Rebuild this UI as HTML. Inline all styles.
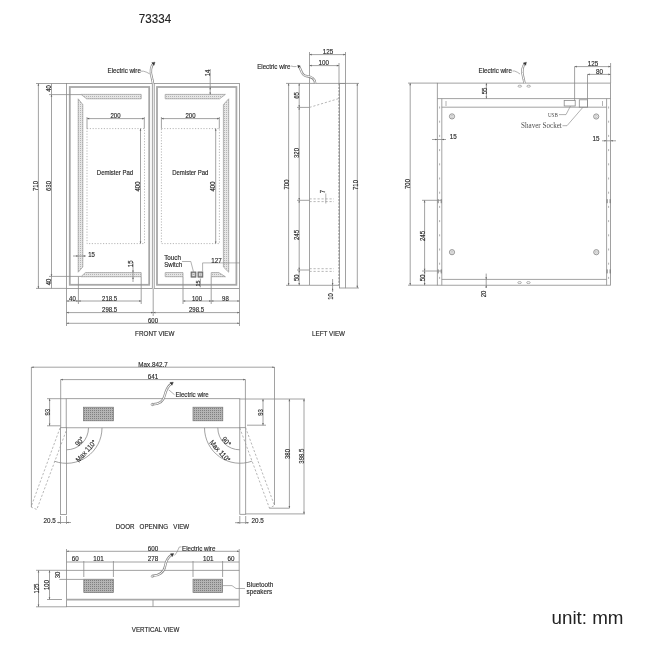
<!DOCTYPE html>
<html><head><meta charset="utf-8"><style>
html,body{margin:0;padding:0;background:#fff;width:650px;height:650px;overflow:hidden}
svg{display:block;will-change:transform}
text{font-family:"Liberation Sans",sans-serif;fill:#2a2a2a;stroke:#2a2a2a;stroke-width:0.16}
.title{fill:#222}
.unit{fill:#222;stroke:none}
.serif{font-family:"Liberation Serif",serif;fill:#3a3a3a;stroke:#3a3a3a;stroke-width:0.05;letter-spacing:0.4px}
.serif2{font-family:"Liberation Serif",serif;fill:#505050;stroke:none}
.l{fill:none;stroke:#8a8a8a;stroke-width:0.8}
.lt{fill:none;stroke:#888;stroke-width:0.65}
.th{fill:none;stroke:#a8a8a8;stroke-width:1.8}
.hatch{fill:url(#hp);stroke:#999;stroke-width:0.7}
.spk{fill:url(#sp);stroke:#777;stroke-width:0.7}
.dot{fill:none;stroke:#999;stroke-width:0.7;stroke-dasharray:1.2 1.6}
.dash{fill:none;stroke:#999;stroke-width:0.7;stroke-dasharray:2.2 1.8}
.dash2{fill:none;stroke:#707070;stroke-width:0.9;stroke-dasharray:2.2 1.2}
.ar{fill:#666;stroke:none}
.hm{fill:none;stroke:#666;stroke-width:0.8}
.circ{fill:#eee;stroke:#8c8c8c;stroke-width:0.9}
.circi{fill:none;stroke:#b0b0b0;stroke-width:0.6}
.btn{fill:#a0a0a0;stroke:#555;stroke-width:0.8}
.btni{fill:#eee;stroke:none}
.wirei{fill:none;stroke:#fff;stroke-width:1.0}
.blob{fill:#333;stroke:#333;stroke-width:0.4}
.wire{fill:none;stroke:#8a8a8a;stroke-width:2.4}
</style></head><body>
<svg width="650" height="650" viewBox="0 0 650 650">
<defs>
<pattern id="hp" width="2" height="2" patternUnits="userSpaceOnUse"><rect width="2" height="2" fill="#e6e6e6"/><rect x="0" y="0" width="1" height="1" fill="#b4b4b4"/></pattern>
<pattern id="sp" width="2" height="2" patternUnits="userSpaceOnUse"><rect width="2" height="2" fill="#b4b4b4"/><rect x="0" y="0" width="1" height="1" fill="#808080"/></pattern>
</defs>
<rect width="650" height="650" fill="#fff"/>
<text x="0" y="0" font-size="12.609" text-anchor="middle" class="title" transform="translate(155 22.8) scale(0.92 1)">73334</text>
<rect x="66.5" y="83.5" width="85.8" height="204.9" class="l"/>
<rect x="154.2" y="83.5" width="85.3" height="204.9" class="l"/>
<rect x="69.8" y="87" width="79.4" height="197.8" class="th"/>
<rect x="157" y="87" width="79.4" height="197.8" class="th"/>
<polygon points="81,94.4 141.2,94.4 141.2,98.8 86.6,98.8" class="hatch"/>
<polygon points="78.2,98.8 82.8,104.6 82.8,267 78.2,272.2" class="hatch"/>
<polygon points="85.3,272.6 141.2,272.6 141.2,276.7 81,276.7" class="hatch"/>
<polygon points="165.2,94.4 225.4,94.4 219.6,98.8 165.2,98.8" class="hatch"/>
<polygon points="228.7,98.8 223.4,104.6 223.4,267 228.7,272.2" class="hatch"/>
<polygon points="165.2,272.6 183,272.6 183,276.7 165.2,276.7" class="hatch"/>
<polygon points="211.2,272.6 218.8,272.6 225.4,276.7 211.2,276.7" class="hatch"/>
<rect x="87" y="128.6" width="57.5" height="115" class="dot"/>
<rect x="161.4" y="128.6" width="58" height="115" class="dot"/>
<line x1="87" y1="118.6" x2="144.3" y2="118.6" class="l"/>
<polygon points="87,118.6 89.2,117.8 89.2,119.39999999999999" class="ar"/>
<polygon points="144.3,118.6 142.10000000000002,117.8 142.10000000000002,119.39999999999999" class="ar"/>
<line x1="87" y1="117" x2="87" y2="128.6" class="l"/>
<line x1="144.3" y1="117" x2="144.3" y2="128.6" class="l"/>
<text x="0" y="0" font-size="6.818" text-anchor="middle" class="t" transform="translate(115.5 118.0) scale(0.88 1)">200</text>
<line x1="161.4" y1="118.6" x2="219.3" y2="118.6" class="l"/>
<polygon points="161.4,118.6 163.6,117.8 163.6,119.39999999999999" class="ar"/>
<polygon points="219.3,118.6 217.10000000000002,117.8 217.10000000000002,119.39999999999999" class="ar"/>
<line x1="161.4" y1="117" x2="161.4" y2="128.6" class="l"/>
<line x1="219.3" y1="117" x2="219.3" y2="128.6" class="l"/>
<text x="0" y="0" font-size="6.818" text-anchor="middle" class="t" transform="translate(190.5 118.0) scale(0.88 1)">200</text>
<line x1="140.5" y1="128.6" x2="140.5" y2="243.6" class="l"/>
<polygon points="140.5,128.6 139.7,130.79999999999998 141.3,130.79999999999998" class="ar"/>
<polygon points="140.5,243.6 139.7,241.4 141.3,241.4" class="ar"/>
<text x="0" y="0" font-size="6.818" text-anchor="middle" class="t" transform="translate(137.6 186.5) rotate(-90) scale(0.88 1)" dominant-baseline="central">400</text>
<line x1="215.7" y1="128.6" x2="215.7" y2="243.6" class="l"/>
<polygon points="215.7,128.6 214.89999999999998,130.79999999999998 216.5,130.79999999999998" class="ar"/>
<polygon points="215.7,243.6 214.89999999999998,241.4 216.5,241.4" class="ar"/>
<text x="0" y="0" font-size="6.818" text-anchor="middle" class="t" transform="translate(212.8 186.5) rotate(-90) scale(0.88 1)" dominant-baseline="central">400</text>
<text x="0" y="0" font-size="6.818" text-anchor="middle" class="t" transform="translate(115 172) scale(0.88 1)" dominant-baseline="central">Demister Pad</text>
<text x="0" y="0" font-size="6.818" text-anchor="middle" class="t" transform="translate(190.3 172) scale(0.88 1)" dominant-baseline="central">Demister Pad</text>
<line x1="36" y1="83.5" x2="66.5" y2="83.5" class="l"/>
<line x1="36" y1="288.4" x2="66.5" y2="288.4" class="l"/>
<line x1="38.4" y1="83.5" x2="38.4" y2="288.4" class="l"/>
<polygon points="38.4,83.5 37.6,85.7 39.199999999999996,85.7" class="ar"/>
<polygon points="38.4,288.4 37.6,286.2 39.199999999999996,286.2" class="ar"/>
<text x="0" y="0" font-size="6.818" text-anchor="middle" class="t" transform="translate(35.6 186) rotate(-90) scale(0.88 1)" dominant-baseline="central">710</text>
<line x1="49" y1="94.6" x2="81" y2="94.6" class="l"/>
<line x1="49" y1="276.4" x2="81" y2="276.4" class="l"/>
<line x1="51.5" y1="94.6" x2="51.5" y2="276.4" class="l"/>
<polygon points="51.5,94.6 50.7,96.8 52.3,96.8" class="ar"/>
<polygon points="51.5,276.4 50.7,274.2 52.3,274.2" class="ar"/>
<text x="0" y="0" font-size="6.818" text-anchor="middle" class="t" transform="translate(48.6 186) rotate(-90) scale(0.88 1)" dominant-baseline="central">630</text>
<line x1="51.5" y1="83.5" x2="51.5" y2="94.6" class="l"/>
<text x="0" y="0" font-size="6.818" text-anchor="middle" class="t" transform="translate(48.6 88.5) rotate(-90) scale(0.88 1)" dominant-baseline="central">40</text>
<line x1="51.5" y1="276.4" x2="51.5" y2="288.4" class="l"/>
<text x="0" y="0" font-size="6.818" text-anchor="middle" class="t" transform="translate(48.6 282) rotate(-90) scale(0.88 1)" dominant-baseline="central">40</text>
<line x1="73" y1="256" x2="86" y2="256" class="l"/>
<polygon points="78.3,256 76.1,255.2 76.1,256.8" class="ar"/>
<polygon points="82.8,256 85.0,255.2 85.0,256.8" class="ar"/>
<text x="0" y="0" font-size="6.818" text-anchor="middle" class="t" transform="translate(91.6 256.6) scale(0.88 1)">15</text>
<line x1="133" y1="262" x2="133" y2="282" class="l"/>
<polygon points="133,272.6 132.2,270.40000000000003 133.8,270.40000000000003" class="ar"/>
<polygon points="133,276.7 132.2,278.9 133.8,278.9" class="ar"/>
<text x="0" y="0" font-size="6.818" text-anchor="middle" class="t" transform="translate(130.4 263.8) rotate(-90) scale(0.88 1)" dominant-baseline="central">15</text>
<line x1="66.5" y1="288.4" x2="66.5" y2="326" class="l"/>
<line x1="78.4" y1="276.7" x2="78.4" y2="304" class="l"/>
<line x1="141.2" y1="276.7" x2="141.2" y2="304" class="l"/>
<line x1="66.5" y1="301" x2="78.4" y2="301" class="l"/>
<polygon points="66.5,301 68.7,300.2 68.7,301.8" class="ar"/>
<polygon points="78.4,301 76.2,300.2 76.2,301.8" class="ar"/>
<line x1="78.4" y1="301" x2="141.2" y2="301" class="l"/>
<polygon points="78.4,301 80.60000000000001,300.2 80.60000000000001,301.8" class="ar"/>
<polygon points="141.2,301 139.0,300.2 139.0,301.8" class="ar"/>
<text x="0" y="0" font-size="6.818" text-anchor="middle" class="t" transform="translate(72.4 300.8) scale(0.88 1)">40</text>
<text x="0" y="0" font-size="6.818" text-anchor="middle" class="t" transform="translate(109.6 300.8) scale(0.88 1)">218.5</text>
<line x1="153.2" y1="288.4" x2="153.2" y2="316" class="l"/>
<line x1="66.5" y1="312.6" x2="153.2" y2="312.6" class="l"/>
<polygon points="66.5,312.6 68.7,311.8 68.7,313.40000000000003" class="ar"/>
<polygon points="153.2,312.6 151.0,311.8 151.0,313.40000000000003" class="ar"/>
<text x="0" y="0" font-size="6.818" text-anchor="middle" class="t" transform="translate(109.6 312.0) scale(0.88 1)">298.5</text>
<line x1="153.2" y1="312.6" x2="239.5" y2="312.6" class="l"/>
<polygon points="153.2,312.6 155.39999999999998,311.8 155.39999999999998,313.40000000000003" class="ar"/>
<polygon points="239.5,312.6 237.3,311.8 237.3,313.40000000000003" class="ar"/>
<text x="0" y="0" font-size="6.818" text-anchor="middle" class="t" transform="translate(196.5 312.0) scale(0.88 1)">298.5</text>
<line x1="239.5" y1="288.4" x2="239.5" y2="326" class="l"/>
<line x1="66.5" y1="323.3" x2="239.5" y2="323.3" class="l"/>
<polygon points="66.5,323.3 68.7,322.5 68.7,324.1" class="ar"/>
<polygon points="239.5,323.3 237.3,322.5 237.3,324.1" class="ar"/>
<text x="0" y="0" font-size="6.818" text-anchor="middle" class="t" transform="translate(153 322.8) scale(0.88 1)">600</text>
<line x1="183" y1="276.7" x2="183" y2="304" class="l"/>
<line x1="211.2" y1="276.7" x2="211.2" y2="304" class="l"/>
<line x1="183" y1="301" x2="211.2" y2="301" class="l"/>
<polygon points="183,301 185.2,300.2 185.2,301.8" class="ar"/>
<polygon points="211.2,301 209.0,300.2 209.0,301.8" class="ar"/>
<line x1="211.2" y1="301" x2="239.5" y2="301" class="l"/>
<polygon points="211.2,301 213.39999999999998,300.2 213.39999999999998,301.8" class="ar"/>
<polygon points="239.5,301 237.3,300.2 237.3,301.8" class="ar"/>
<text x="0" y="0" font-size="6.818" text-anchor="middle" class="t" transform="translate(197 300.8) scale(0.88 1)">100</text>
<text x="0" y="0" font-size="6.818" text-anchor="middle" class="t" transform="translate(225.4 300.8) scale(0.88 1)">98</text>
<text x="0" y="0" font-size="7.159" text-anchor="middle" class="t" transform="translate(154.8 333.2) scale(0.88 1)" dominant-baseline="central">FRONT VIEW</text>
<rect x="191.1" y="272" width="4.8" height="5.1" class="btn"/>
<rect x="198" y="272" width="4.8" height="5.1" class="btn"/>
<rect x="192.3" y="273.2" width="2.4" height="2.7" class="btni"/>
<rect x="199.2" y="273.2" width="2.4" height="2.7" class="btni"/>
<line x1="192.6" y1="274.5" x2="194.4" y2="274.5" class="lt"/>
<line x1="200.4" y1="273.4" x2="200.4" y2="275.8" class="lt"/>
<text x="0" y="0" font-size="7.159" text-anchor="start" class="t" transform="translate(164.2 259.5) scale(0.88 1)">Touch</text>
<text x="0" y="0" font-size="6.932" text-anchor="start" class="t" transform="translate(164.2 266.9) scale(0.88 1)">Switch</text>
<path d="M182,261.5 L190.8,261.5 L193.5,271.8" class="lt"/>
<line x1="202.6" y1="262.9" x2="240" y2="262.9" class="lt"/>
<line x1="202.6" y1="262.9" x2="202.6" y2="271.5" class="lt"/>
<text x="0" y="0" font-size="7.159" text-anchor="middle" class="t" transform="translate(216.6 263.2) scale(0.88 1)">127</text>
<text x="0" y="0" font-size="6.25" text-anchor="middle" class="t" transform="translate(197.6 283.5) rotate(-90) scale(0.88 1)" dominant-baseline="central">15</text>
<line x1="200.4" y1="278.5" x2="200.4" y2="287.3" class="l"/>
<line x1="210.2" y1="69" x2="210.2" y2="94.6" class="l"/>
<polygon points="210.2,94.6 209.39999999999998,92.39999999999999 211.0,92.39999999999999" class="ar"/>
<polygon points="210.2,87 209.39999999999998,89.2 211.0,89.2" class="ar"/>
<text x="0" y="0" font-size="6.818" text-anchor="middle" class="t" transform="translate(207.2 73) rotate(-90) scale(0.88 1)" dominant-baseline="central">14</text>
<text x="0" y="0" font-size="7.045" text-anchor="start" class="t" transform="translate(107.5 73.3) scale(0.88 1)">Electric wire</text>
<path d="M141,71.2 L143.5,71.2 Q147,72 149.8,74" class="lt"/>
<path d="M153,83.5 C152.5,78 150,74 151,69 C151.5,66 152.5,64.5 153.6,63.5" class="wire"/>
<path d="M153,83.5 C152.5,78 150,74 151,69 C151.5,66 152.5,64.5 153.6,63.5" class="wirei"/>
<polygon points="155.03,62.17 153.97,65.27 151.79,62.67" class="blob"/>
<line x1="286" y1="83.4" x2="359" y2="83.4" class="l"/>
<line x1="309.5" y1="83.4" x2="309.5" y2="285.3" class="l"/>
<line x1="339" y1="83.4" x2="339" y2="285.3" class="dash2"/>
<rect x="339.5" y="83.4" width="6" height="204.6" class="l"/>
<line x1="309.5" y1="285.3" x2="339" y2="285.3" class="l"/>
<line x1="286" y1="285.3" x2="309.5" y2="285.3" class="l"/>
<line x1="345.5" y1="288" x2="359" y2="288" class="l"/>
<line x1="288.6" y1="83.4" x2="288.6" y2="285.3" class="l"/>
<polygon points="288.6,83.4 287.8,85.60000000000001 289.40000000000003,85.60000000000001" class="ar"/>
<polygon points="288.6,285.3 287.8,283.1 289.40000000000003,283.1" class="ar"/>
<text x="0" y="0" font-size="6.818" text-anchor="middle" class="t" transform="translate(286 184.5) rotate(-90) scale(0.88 1)" dominant-baseline="central">700</text>
<line x1="357.3" y1="83.4" x2="357.3" y2="288" class="l"/>
<polygon points="357.3,83.4 356.5,85.60000000000001 358.1,85.60000000000001" class="ar"/>
<polygon points="357.3,288 356.5,285.8 358.1,285.8" class="ar"/>
<text x="0" y="0" font-size="6.818" text-anchor="middle" class="t" transform="translate(355 185) rotate(-90) scale(0.88 1)" dominant-baseline="central">710</text>
<line x1="299.2" y1="83.4" x2="299.2" y2="107.4" class="l"/>
<polygon points="299.2,83.4 298.4,85.60000000000001 300.0,85.60000000000001" class="ar"/>
<polygon points="299.2,107.4 298.4,105.2 300.0,105.2" class="ar"/>
<text x="0" y="0" font-size="6.818" text-anchor="middle" class="t" transform="translate(296.4 95.4) rotate(-90) scale(0.88 1)" dominant-baseline="central">65</text>
<line x1="299.2" y1="107.4" x2="299.2" y2="200.3" class="l"/>
<polygon points="299.2,107.4 298.4,109.60000000000001 300.0,109.60000000000001" class="ar"/>
<polygon points="299.2,200.3 298.4,198.10000000000002 300.0,198.10000000000002" class="ar"/>
<text x="0" y="0" font-size="6.818" text-anchor="middle" class="t" transform="translate(296.4 153) rotate(-90) scale(0.88 1)" dominant-baseline="central">320</text>
<line x1="299.2" y1="200.3" x2="299.2" y2="270" class="l"/>
<polygon points="299.2,200.3 298.4,202.5 300.0,202.5" class="ar"/>
<polygon points="299.2,270 298.4,267.8 300.0,267.8" class="ar"/>
<text x="0" y="0" font-size="6.818" text-anchor="middle" class="t" transform="translate(296.4 235) rotate(-90) scale(0.88 1)" dominant-baseline="central">245</text>
<line x1="299.2" y1="270" x2="299.2" y2="285.3" class="l"/>
<polygon points="299.2,270 298.4,272.2 300.0,272.2" class="ar"/>
<polygon points="299.2,285.3 298.4,283.1 300.0,283.1" class="ar"/>
<text x="0" y="0" font-size="6.818" text-anchor="middle" class="t" transform="translate(296.4 277.7) rotate(-90) scale(0.88 1)" dominant-baseline="central">50</text>
<line x1="297" y1="107.4" x2="309.5" y2="107.4" class="l"/>
<path d="M309.5,107.4 L339,98.5" class="dash"/>
<line x1="297" y1="200.3" x2="309.5" y2="200.3" class="l"/>
<line x1="309.5" y1="198.9" x2="334" y2="198.9" class="dash"/>
<line x1="309.5" y1="201.6" x2="334" y2="201.6" class="dash"/>
<line x1="325.8" y1="193.5" x2="325.8" y2="203.5" class="lt"/>
<text x="0" y="0" font-size="6.818" text-anchor="middle" class="t" transform="translate(322 191.5) rotate(-90) scale(0.88 1)" dominant-baseline="central">7</text>
<line x1="297" y1="270" x2="309.5" y2="270" class="l"/>
<line x1="309.5" y1="268.7" x2="334" y2="268.7" class="dash"/>
<line x1="309.5" y1="271.4" x2="334" y2="271.4" class="dash"/>
<line x1="332.6" y1="279" x2="332.6" y2="292" class="l"/>
<polygon points="332.6,285.3 331.8,283.1 333.40000000000003,283.1" class="ar"/>
<polygon points="332.6,288 331.8,290.2 333.40000000000003,290.2" class="ar"/>
<text x="0" y="0" font-size="6.818" text-anchor="middle" class="t" transform="translate(330.3 296.4) rotate(-90) scale(0.88 1)" dominant-baseline="central">10</text>
<text x="0" y="0" font-size="7.159" text-anchor="middle" class="t" transform="translate(328.5 333) scale(0.88 1)" dominant-baseline="central">LEFT VIEW</text>
<line x1="309.5" y1="52" x2="309.5" y2="83.4" class="l"/>
<line x1="345.5" y1="52" x2="345.5" y2="83.4" class="l"/>
<line x1="339" y1="63" x2="339" y2="83.4" class="l"/>
<line x1="309.5" y1="54.6" x2="345.5" y2="54.6" class="l"/>
<polygon points="309.5,54.6 311.7,53.800000000000004 311.7,55.4" class="ar"/>
<polygon points="345.5,54.6 343.3,53.800000000000004 343.3,55.4" class="ar"/>
<text x="0" y="0" font-size="7.159" text-anchor="middle" class="t" transform="translate(328 53.8) scale(0.88 1)">125</text>
<line x1="309.5" y1="65.6" x2="339" y2="65.6" class="l"/>
<polygon points="309.5,65.6 311.7,64.8 311.7,66.39999999999999" class="ar"/>
<polygon points="339,65.6 336.8,64.8 336.8,66.39999999999999" class="ar"/>
<text x="0" y="0" font-size="7.159" text-anchor="middle" class="t" transform="translate(323.8 64.6) scale(0.88 1)">100</text>
<text x="0" y="0" font-size="7.045" text-anchor="end" class="t" transform="translate(290.5 68.5) scale(0.88 1)">Electric wire</text>
<path d="M291,66 Q294,67 296.5,66.5" class="lt"/>
<path d="M315.2,83.4 C315,78 311,76.5 306,76 C301,75.5 301.5,69 298.8,66.4" class="wire"/>
<path d="M315.2,83.4 C315,78 311,76.5 306,76 C301,75.5 301.5,69 298.8,66.4" class="wirei"/>
<polygon points="297.69,65.29 300.24,65.92 298.32,67.84" class="blob"/>
<rect x="437.3" y="83.1" width="173.3" height="202.1" class="l"/>
<line x1="441.8" y1="98.6" x2="441.8" y2="285.2" class="l"/>
<line x1="606.6" y1="98.6" x2="606.6" y2="285.2" class="l"/>
<line x1="437.3" y1="98.6" x2="610.6" y2="98.6" class="l"/>
<line x1="441.8" y1="107.2" x2="606.6" y2="107.2" class="l"/>
<line x1="441.8" y1="279.4" x2="606.6" y2="279.4" class="l"/>
<circle cx="452" cy="116.4" r="2.6" class="circ"/>
<circle cx="452" cy="116.4" r="1.1" class="circi"/>
<circle cx="596.2" cy="116.5" r="2.6" class="circ"/>
<circle cx="596.2" cy="116.5" r="1.1" class="circi"/>
<circle cx="452" cy="252.2" r="2.6" class="circ"/>
<circle cx="452" cy="252.2" r="1.1" class="circi"/>
<circle cx="596.3" cy="252.2" r="2.6" class="circ"/>
<circle cx="596.3" cy="252.2" r="1.1" class="circi"/>
<line x1="439.6" y1="106.5" x2="439.6" y2="108.5" class="lt"/>
<line x1="608.6" y1="106.5" x2="608.6" y2="108.5" class="lt"/>
<line x1="439.6" y1="120.7" x2="439.6" y2="122.7" class="lt"/>
<line x1="608.6" y1="120.7" x2="608.6" y2="122.7" class="lt"/>
<line x1="439.6" y1="134.9" x2="439.6" y2="136.9" class="lt"/>
<line x1="608.6" y1="134.9" x2="608.6" y2="136.9" class="lt"/>
<line x1="439.6" y1="149.1" x2="439.6" y2="151.1" class="lt"/>
<line x1="608.6" y1="149.1" x2="608.6" y2="151.1" class="lt"/>
<line x1="439.6" y1="163.3" x2="439.6" y2="165.3" class="lt"/>
<line x1="608.6" y1="163.3" x2="608.6" y2="165.3" class="lt"/>
<line x1="439.6" y1="177.5" x2="439.6" y2="179.5" class="lt"/>
<line x1="608.6" y1="177.5" x2="608.6" y2="179.5" class="lt"/>
<line x1="439.6" y1="191.7" x2="439.6" y2="193.7" class="lt"/>
<line x1="608.6" y1="191.7" x2="608.6" y2="193.7" class="lt"/>
<line x1="439.6" y1="205.89999999999998" x2="439.6" y2="207.89999999999998" class="lt"/>
<line x1="608.6" y1="205.89999999999998" x2="608.6" y2="207.89999999999998" class="lt"/>
<line x1="439.6" y1="220.1" x2="439.6" y2="222.1" class="lt"/>
<line x1="608.6" y1="220.1" x2="608.6" y2="222.1" class="lt"/>
<line x1="439.6" y1="234.3" x2="439.6" y2="236.3" class="lt"/>
<line x1="608.6" y1="234.3" x2="608.6" y2="236.3" class="lt"/>
<line x1="439.6" y1="248.5" x2="439.6" y2="250.5" class="lt"/>
<line x1="608.6" y1="248.5" x2="608.6" y2="250.5" class="lt"/>
<line x1="439.6" y1="262.7" x2="439.6" y2="264.7" class="lt"/>
<line x1="608.6" y1="262.7" x2="608.6" y2="264.7" class="lt"/>
<line x1="439.6" y1="276.9" x2="439.6" y2="278.9" class="lt"/>
<line x1="608.6" y1="276.9" x2="608.6" y2="278.9" class="lt"/>
<line x1="438.2" y1="199.2" x2="438.2" y2="203.2" class="hm"/>
<line x1="441.2" y1="199.2" x2="441.2" y2="203.2" class="hm"/>
<line x1="607.2" y1="199.2" x2="607.2" y2="203.2" class="hm"/>
<line x1="610.1" y1="199.2" x2="610.1" y2="203.2" class="hm"/>
<line x1="438.2" y1="269.4" x2="438.2" y2="273.4" class="hm"/>
<line x1="441.2" y1="269.4" x2="441.2" y2="273.4" class="hm"/>
<line x1="607.2" y1="269.4" x2="607.2" y2="273.4" class="hm"/>
<line x1="610.1" y1="269.4" x2="610.1" y2="273.4" class="hm"/>
<line x1="446" y1="101" x2="446" y2="106" class="lt"/>
<line x1="602.5" y1="101" x2="602.5" y2="106" class="lt"/>
<rect x="564.2" y="100.5" width="11" height="5.5" class="l"/>
<rect x="579.3" y="99.8" width="8.2" height="7.4" class="l"/>
<line x1="574.6" y1="66.6" x2="574.6" y2="100.5" class="l"/>
<line x1="587.5" y1="74.4" x2="587.5" y2="107.2" class="l"/>
<line x1="610.6" y1="63" x2="610.6" y2="83.1" class="l"/>
<line x1="574.6" y1="66.6" x2="610.6" y2="66.6" class="l"/>
<polygon points="574.6,66.6 576.8000000000001,65.8 576.8000000000001,67.39999999999999" class="ar"/>
<polygon points="610.6,66.6 608.4,65.8 608.4,67.39999999999999" class="ar"/>
<text x="0" y="0" font-size="7.159" text-anchor="middle" class="t" transform="translate(593 66.0) scale(0.88 1)">125</text>
<line x1="587.5" y1="74.4" x2="610.6" y2="74.4" class="l"/>
<polygon points="587.5,74.4 589.7,73.60000000000001 589.7,75.2" class="ar"/>
<polygon points="610.6,74.4 608.4,73.60000000000001 608.4,75.2" class="ar"/>
<text x="0" y="0" font-size="7.159" text-anchor="middle" class="t" transform="translate(599.5 73.8) scale(0.88 1)">80</text>
<text x="0" y="0" font-size="7.083" text-anchor="end" class="serif2" transform="translate(557.8 116.8) scale(0.72 1)">USB</text>
<text x="0" y="0" font-size="8.659" text-anchor="end" class="serif2" transform="translate(561.8 128.2) scale(0.82 1)">Shaver Socket</text>
<path d="M559,114.6 L566,114.6 L570.5,106" class="lt"/>
<path d="M562.5,125.7 L567,125.7 L583,107.2" class="lt"/>
<line x1="486.4" y1="83.1" x2="486.4" y2="98.6" class="l"/>
<polygon points="486.4,83.1 485.59999999999997,85.3 487.2,85.3" class="ar"/>
<polygon points="486.4,98.6 485.59999999999997,96.39999999999999 487.2,96.39999999999999" class="ar"/>
<text x="0" y="0" font-size="6.818" text-anchor="middle" class="t" transform="translate(484 91) rotate(-90) scale(0.88 1)" dominant-baseline="central">55</text>
<line x1="432" y1="139.5" x2="446" y2="139.5" class="l"/>
<polygon points="437.3,139.5 435.1,138.7 435.1,140.3" class="ar"/>
<polygon points="441.8,139.5 444.0,138.7 444.0,140.3" class="ar"/>
<text x="0" y="0" font-size="7.159" text-anchor="middle" class="t" transform="translate(453.2 139.4) scale(0.88 1)">15</text>
<line x1="602" y1="140.8" x2="616" y2="140.8" class="l"/>
<polygon points="606.6,140.8 604.4,140.0 604.4,141.60000000000002" class="ar"/>
<polygon points="610.6,140.8 612.8000000000001,140.0 612.8000000000001,141.60000000000002" class="ar"/>
<text x="0" y="0" font-size="7.159" text-anchor="middle" class="t" transform="translate(596 140.8) scale(0.88 1)">15</text>
<line x1="408" y1="83.1" x2="437.3" y2="83.1" class="l"/>
<line x1="408" y1="285.2" x2="437.3" y2="285.2" class="l"/>
<line x1="410.2" y1="83.1" x2="410.2" y2="285.2" class="l"/>
<polygon points="410.2,83.1 409.4,85.3 411.0,85.3" class="ar"/>
<polygon points="410.2,285.2 409.4,283.0 411.0,283.0" class="ar"/>
<text x="0" y="0" font-size="6.818" text-anchor="middle" class="t" transform="translate(407.3 184) rotate(-90) scale(0.88 1)" dominant-baseline="central">700</text>
<line x1="422" y1="200.3" x2="441.8" y2="200.3" class="l"/>
<line x1="422" y1="271" x2="441.8" y2="271" class="l"/>
<line x1="424.6" y1="200.3" x2="424.6" y2="271" class="l"/>
<polygon points="424.6,200.3 423.8,202.5 425.40000000000003,202.5" class="ar"/>
<polygon points="424.6,271 423.8,268.8 425.40000000000003,268.8" class="ar"/>
<text x="0" y="0" font-size="6.818" text-anchor="middle" class="t" transform="translate(421.9 236) rotate(-90) scale(0.88 1)" dominant-baseline="central">245</text>
<line x1="424.6" y1="271" x2="424.6" y2="285.2" class="l"/>
<polygon points="424.6,271 423.8,273.2 425.40000000000003,273.2" class="ar"/>
<polygon points="424.6,285.2 423.8,283.0 425.40000000000003,283.0" class="ar"/>
<text x="0" y="0" font-size="6.818" text-anchor="middle" class="t" transform="translate(421.9 277.8) rotate(-90) scale(0.88 1)" dominant-baseline="central">50</text>
<line x1="486.2" y1="273.6" x2="486.2" y2="288" class="l"/>
<polygon points="486.2,279.4 485.4,277.2 487.0,277.2" class="ar"/>
<polygon points="486.2,285.2 485.4,287.4 487.0,287.4" class="ar"/>
<text x="0" y="0" font-size="6.818" text-anchor="middle" class="t" transform="translate(483.4 293.9) rotate(-90) scale(0.88 1)" dominant-baseline="central">20</text>
<ellipse cx="519.8" cy="86.2" rx="1.8" ry="1" class="lt"/>
<ellipse cx="528.7" cy="86.2" rx="1.8" ry="1" class="lt"/>
<ellipse cx="519.6" cy="282.6" rx="1.8" ry="1" class="lt"/>
<ellipse cx="528.4" cy="282.6" rx="1.8" ry="1" class="lt"/>
<text x="0" y="0" font-size="7.045" text-anchor="start" class="t" transform="translate(478.5 73.4) scale(0.88 1)">Electric wire</text>
<path d="M512.5,71 L514.5,71 Q517.5,72 520,74" class="lt"/>
<path d="M524.4,83.2 C524,78 521.5,74 522.5,69 C523,66.5 524,64.5 525,63.5" class="wire"/>
<path d="M524.4,83.2 C524,78 521.5,74 522.5,69 C523,66.5 524,64.5 525,63.5" class="wirei"/>
<polygon points="526.43,62.17 525.65,65.35 523.25,62.95" class="blob"/>
<rect x="66.2" y="398.7" width="173.6" height="29.1" class="l"/>
<rect x="83.5" y="407.2" width="30" height="13.6" class="spk"/>
<rect x="193" y="407.2" width="29.8" height="13.6" class="spk"/>
<rect x="60.5" y="427.7" width="6" height="86.8" class="l"/>
<rect x="239.8" y="427.7" width="5.9" height="86.6" class="l"/>
<path d="M60,428 L31,507 L36.8,509.5 L66.5,430" class="dash"/>
<path d="M239.8,428 L269.4,508 L274.5,505.5 L245.7,428" class="dash"/>
<path d="M88.5,427.8 A22,22 0 0 1 66.5,449.8" class="l"/>
<path d="M217.8,427.8 A22,22 0 0 0 239.8,449.8" class="l"/>
<path d="M102,427.8 A35.5,35.5 0 0 1 54.4,461.2" class="l"/>
<path d="M204.5,427.8 A35.5,35.5 0 0 0 251.9,461.2" class="l"/>
<text x="0" y="0" font-size="7.386" text-anchor="middle" class="t" transform="translate(79.6 441.4) rotate(-48) scale(0.88 1)" dominant-baseline="central">90°</text>
<text x="0" y="0" font-size="7.386" text-anchor="middle" class="t" transform="translate(226.4 441.4) rotate(48) scale(0.88 1)" dominant-baseline="central">90°</text>
<text x="0" y="0" font-size="7.386" text-anchor="middle" class="t" transform="translate(86 451) rotate(-48) scale(0.88 1)" dominant-baseline="central">Max 110°</text>
<text x="0" y="0" font-size="7.386" text-anchor="middle" class="t" transform="translate(220 451) rotate(48) scale(0.88 1)" dominant-baseline="central">Max 110°</text>
<line x1="31.4" y1="367" x2="31.4" y2="507" class="l"/>
<line x1="274.5" y1="367" x2="274.5" y2="505" class="l"/>
<line x1="31.4" y1="367.2" x2="274.5" y2="367.2" class="l"/>
<polygon points="31.4,367.2 33.6,366.4 33.6,368.0" class="ar"/>
<polygon points="274.5,367.2 272.3,366.4 272.3,368.0" class="ar"/>
<text x="0" y="0" font-size="7.159" text-anchor="middle" class="t" transform="translate(153 366.6) scale(0.88 1)">Max.842.7</text>
<line x1="60.7" y1="379.5" x2="60.7" y2="427.7" class="l"/>
<line x1="245.4" y1="379.5" x2="245.4" y2="427.7" class="l"/>
<line x1="60.7" y1="379.6" x2="245.4" y2="379.6" class="l"/>
<polygon points="60.7,379.6 62.900000000000006,378.8 62.900000000000006,380.40000000000003" class="ar"/>
<polygon points="245.4,379.6 243.20000000000002,378.8 243.20000000000002,380.40000000000003" class="ar"/>
<text x="0" y="0" font-size="7.159" text-anchor="middle" class="t" transform="translate(153 378.8) scale(0.88 1)">641</text>
<line x1="47" y1="398.7" x2="66.2" y2="398.7" class="l"/>
<line x1="47" y1="425.8" x2="60.5" y2="425.8" class="l"/>
<line x1="49.6" y1="398.7" x2="49.6" y2="425.8" class="l"/>
<polygon points="49.6,398.7 48.800000000000004,400.9 50.4,400.9" class="ar"/>
<polygon points="49.6,425.8 48.800000000000004,423.6 50.4,423.6" class="ar"/>
<text x="0" y="0" font-size="6.818" text-anchor="middle" class="t" transform="translate(46.9 412.2) rotate(-90) scale(0.88 1)" dominant-baseline="central">93</text>
<line x1="239.8" y1="399" x2="305" y2="399" class="l"/>
<line x1="247" y1="425.2" x2="266" y2="425.2" class="l"/>
<line x1="263" y1="399" x2="263" y2="425.2" class="l"/>
<polygon points="263,399 262.2,401.2 263.8,401.2" class="ar"/>
<polygon points="263,425.2 262.2,423.0 263.8,423.0" class="ar"/>
<text x="0" y="0" font-size="6.818" text-anchor="middle" class="t" transform="translate(260.2 412.5) rotate(-90) scale(0.88 1)" dominant-baseline="central">93</text>
<line x1="269.4" y1="508.2" x2="289.4" y2="508.2" class="l"/>
<line x1="245.7" y1="513.9" x2="305" y2="513.9" class="l"/>
<line x1="289.4" y1="399" x2="289.4" y2="508.2" class="l"/>
<polygon points="289.4,399 288.59999999999997,401.2 290.2,401.2" class="ar"/>
<polygon points="289.4,508.2 288.59999999999997,506.0 290.2,506.0" class="ar"/>
<text x="0" y="0" font-size="6.818" text-anchor="middle" class="t" transform="translate(287 454) rotate(-90) scale(0.88 1)" dominant-baseline="central">380</text>
<line x1="304" y1="399" x2="304" y2="513.9" class="l"/>
<polygon points="304,399 303.2,401.2 304.8,401.2" class="ar"/>
<polygon points="304,513.9 303.2,511.7 304.8,511.7" class="ar"/>
<text x="0" y="0" font-size="6.818" text-anchor="middle" class="t" transform="translate(301.5 456.2) rotate(-90) scale(0.88 1)" dominant-baseline="central">398.5</text>
<line x1="60.5" y1="516" x2="60.5" y2="524" class="l"/>
<line x1="66.5" y1="516" x2="66.5" y2="524" class="l"/>
<line x1="57" y1="522.5" x2="71" y2="522.5" class="l"/>
<polygon points="60.5,522.5 58.3,521.7 58.3,523.3" class="ar"/>
<polygon points="66.5,522.5 68.7,521.7 68.7,523.3" class="ar"/>
<text x="0" y="0" font-size="7.159" text-anchor="middle" class="t" transform="translate(49.6 523.0) scale(0.88 1)">20.5</text>
<line x1="239.8" y1="516" x2="239.8" y2="524" class="l"/>
<line x1="245.7" y1="516" x2="245.7" y2="524" class="l"/>
<line x1="235" y1="522.7" x2="249" y2="522.7" class="l"/>
<polygon points="239.8,522.7 237.60000000000002,521.9000000000001 237.60000000000002,523.5" class="ar"/>
<polygon points="245.7,522.7 247.89999999999998,521.9000000000001 247.89999999999998,523.5" class="ar"/>
<text x="0" y="0" font-size="7.159" text-anchor="middle" class="t" transform="translate(257.6 523.4) scale(0.88 1)">20.5</text>
<text x="0" y="0" font-size="7.045" text-anchor="middle" class="t" transform="translate(152.5 526.3) scale(0.88 1)" dominant-baseline="central">DOOR&#160;&#160;&#160;OPENING&#160;&#160;&#160;VIEW</text>
<text x="0" y="0" font-size="7.045" text-anchor="start" class="t" transform="translate(175.4 397.4) scale(0.88 1)">Electric wire</text>
<path d="M174.5,394.7 L168.7,389.8" class="lt"/>
<path d="M152.2,404.2 C158,404.5 163,402 164.5,396 C166,390 168,386 171.5,383.6" class="wire"/>
<path d="M152.2,404.2 C158,404.5 163,402 164.5,396 C166,390 168,386 171.5,383.6" class="wirei"/>
<circle cx="152.3" cy="404.5" r="1.2" class="lt"/>
<polygon points="173.31,382.28 171.99,385.28 170.04,382.50" class="blob"/>
<rect x="66.5" y="570.3" width="172.7" height="36.4" class="l"/>
<line x1="66.5" y1="599.7" x2="239.2" y2="599.7" class="th"/>
<line x1="153" y1="600" x2="153" y2="606.6" class="l"/>
<rect x="83.8" y="579.2" width="29.6" height="13.4" class="spk"/>
<rect x="193" y="579.2" width="29.6" height="13.4" class="spk"/>
<line x1="66.5" y1="549" x2="66.5" y2="570.3" class="l"/>
<line x1="239.2" y1="549" x2="239.2" y2="570.3" class="l"/>
<line x1="66.5" y1="551.3" x2="239.2" y2="551.3" class="l"/>
<polygon points="66.5,551.3 68.7,550.5 68.7,552.0999999999999" class="ar"/>
<polygon points="239.2,551.3 237.0,550.5 237.0,552.0999999999999" class="ar"/>
<text x="0" y="0" font-size="7.159" text-anchor="middle" class="t" transform="translate(153 551.0) scale(0.88 1)">600</text>
<line x1="83.8" y1="561" x2="83.8" y2="577" class="l"/>
<line x1="113.4" y1="561" x2="113.4" y2="577" class="l"/>
<line x1="193" y1="561" x2="193" y2="577" class="l"/>
<line x1="222.6" y1="561" x2="222.6" y2="577" class="l"/>
<line x1="66.5" y1="562" x2="239.2" y2="562" class="l"/>
<text x="0" y="0" font-size="7.159" text-anchor="middle" class="t" transform="translate(75.3 561.3) scale(0.88 1)">60</text>
<text x="0" y="0" font-size="7.159" text-anchor="middle" class="t" transform="translate(98.5 561.3) scale(0.88 1)">101</text>
<text x="0" y="0" font-size="7.159" text-anchor="middle" class="t" transform="translate(153 561.3) scale(0.88 1)">278</text>
<text x="0" y="0" font-size="7.159" text-anchor="middle" class="t" transform="translate(208.2 561.3) scale(0.88 1)">101</text>
<text x="0" y="0" font-size="7.159" text-anchor="middle" class="t" transform="translate(231 561.3) scale(0.88 1)">60</text>
<line x1="36" y1="570.3" x2="66.5" y2="570.3" class="l"/>
<line x1="36" y1="606.8" x2="66.5" y2="606.8" class="l"/>
<line x1="38.5" y1="570.3" x2="38.5" y2="606.8" class="l"/>
<polygon points="38.5,570.3 37.7,572.5 39.3,572.5" class="ar"/>
<polygon points="38.5,606.8 37.7,604.5999999999999 39.3,604.5999999999999" class="ar"/>
<text x="0" y="0" font-size="6.818" text-anchor="middle" class="t" transform="translate(36 588.6) rotate(-90) scale(0.88 1)" dominant-baseline="central">125</text>
<line x1="47" y1="599.5" x2="62" y2="599.5" class="l"/>
<line x1="49.5" y1="570.3" x2="49.5" y2="599.5" class="l"/>
<polygon points="49.5,570.3 48.7,572.5 50.3,572.5" class="ar"/>
<polygon points="49.5,599.5 48.7,597.3 50.3,597.3" class="ar"/>
<text x="0" y="0" font-size="6.818" text-anchor="middle" class="t" transform="translate(46.8 585) rotate(-90) scale(0.88 1)" dominant-baseline="central">100</text>
<line x1="59.4" y1="579.4" x2="83.7" y2="579.4" class="l"/>
<text x="0" y="0" font-size="6.818" text-anchor="middle" class="t" transform="translate(57.2 575) rotate(-90) scale(0.88 1)" dominant-baseline="central">30</text>
<text x="0" y="0" font-size="7.045" text-anchor="start" class="t" transform="translate(182 550.6) scale(0.88 1)">Electric wire</text>
<path d="M181.5,546.8 L179.3,547 L177,552 L174.6,555.4" class="lt"/>
<path d="M152.6,575.8 C159,576 164,572 165,566.5 C166,561 168,557 171.8,554.8" class="wire"/>
<path d="M152.6,575.8 C159,576 164,572 165,566.5 C166,561 168,557 171.8,554.8" class="wirei"/>
<circle cx="152.4" cy="576.3" r="1.2" class="lt"/>
<polygon points="173.71,553.58 172.39,556.58 170.44,553.80" class="blob"/>
<text x="0" y="0" font-size="7.159" text-anchor="start" class="t" transform="translate(246.6 586.6) scale(0.88 1)">Bluetooth</text>
<text x="0" y="0" font-size="7.159" text-anchor="start" class="t" transform="translate(246.6 593.6) scale(0.88 1)">speakers</text>
<path d="M222.6,585.6 L232,585.6 L236,588.5 L245,588.5" class="lt"/>
<text x="0" y="0" font-size="7.045" text-anchor="middle" class="t" transform="translate(155.6 628.9) scale(0.88 1)" dominant-baseline="central">VERTICAL VIEW</text>
<text x="551.5" y="624.2" font-size="17.6" text-anchor="start" class="unit" textLength="72" lengthAdjust="spacingAndGlyphs">unit: mm</text>
</svg>
</body></html>
